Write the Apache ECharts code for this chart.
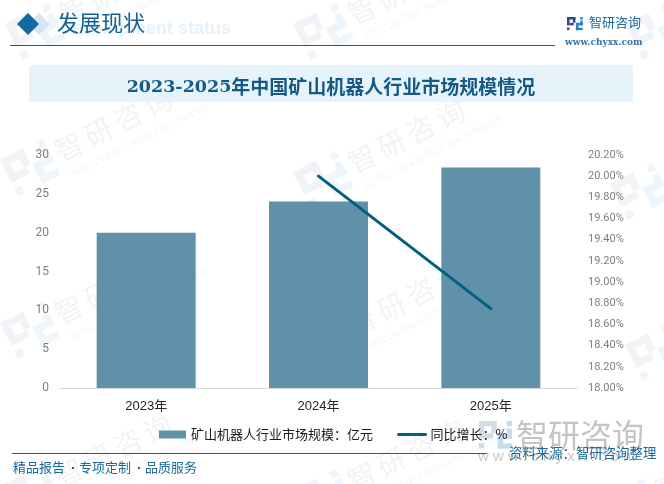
<!DOCTYPE html>
<html>
<head>
<meta charset="utf-8">
<style>html,body{margin:0;padding:0;background:#fff}#main{width:664px;height:484px}</style>
<script src="https://cdn.jsdelivr.net/npm/echarts@6/dist/echarts.min.js"></script>
</head>
<body>
<div id="main"></div>
<script>
var categories = ['2023年', '2024年', '2025年'];
var marketSize = [20, 24, 28.4];
var growthRate = [null, 20.0, 18.75];
var barName = '矿山机器人行业市场规模：亿元';
var lineName = '同比增长：%';

var cjk = '"Noto Sans CJK SC", sans-serif';
var navy = '#14608f';

// 水印的位置
var marks = [[5, 24], [293, 24], [625, 24], [0, 160], [293, 172], [610, 184], [0, 323], [293, 335], [625, 345], [0, 486], [293, 490], [600, 500]];

function logo(x, y, s, color, color2, rot) {
  var r = function (a, b, w, h, c) {
    return { type: 'rect', shape: { x: a * s, y: b * s, width: w * s, height: h * s }, style: { fill: c }, silent: true };
  };
  return {
    type: 'group', x: x, y: y, rotation: rot, silent: true,
    children: [
      r(0, 0, 8, 2.4, color), r(0, 0, 2.4, 8, color), r(5.6, 0, 2.4, 5.5, color), r(2.4, 5.6, 4, 2.4, color), r(0, 10, 2.4, 2.5, color),
      r(12.6, 0, 2.4, 2.4, color2), r(12.6, 3.4, 2.4, 4.6, color2), r(8.5, 5.6, 6.5, 2.4, color2), r(8.5, 5.6, 2.4, 7, color2), r(8.5, 10.2, 6.5, 2.3, color2)
    ]
  };
}

var graphic = [];
marks.forEach(function (m) {
  var rot = 0.46;
  graphic.push(logo(m[0], m[1], 3.2, '#f1f3f7', '#eef6fb', rot));
  var chars = '智研咨询'.split('').map(function (c, i) {
    return { type: 'text', style: { x: i * 33, y: 0, text: c, fill: '#f2f3f5', font: '28px ' + cjk } };
  });
  chars.push({ type: 'text', style: { x: 4, y: 36, text: 'INTELLIGENCE RESEARCH GROUP', fill: '#f4f5f7', font: '9px "Liberation Sans"' } });
  graphic.push({ type: 'group', x: m[0] + 50, y: m[1] - 20, rotation: rot, silent: true, children: chars });
});

// 页眉
graphic.push(
  { type: 'text', style: { x: 60, y: 20, text: 'Development status', fill: '#e6f2fa', font: 'bold 18px "Liberation Sans"' } },
  { type: 'polygon', shape: { points: [[39, 13], [50, 24], [39, 35], [28, 24]] }, style: { fill: '#d5e6f1' } },
  { type: 'polygon', shape: { points: [[28, 13], [39, 24], [28, 35], [17, 24]] }, style: { fill: '#1569a3' } },
  { type: 'text', style: { x: 57, y: 12, text: '发展现状', fill: navy, font: '22px ' + cjk } },
  { type: 'rect', shape: { x: 10, y: 45, width: 545, height: 1 }, style: { fill: '#1a5f8c' } },
  logo(567, 17, 1.05, '#2c4a8c', '#1f86c8', 0),
  { type: 'text', style: { x: 589, y: 16, text: '智研咨询', fill: '#1d6a9c', font: '13px ' + cjk } },
  { type: 'text', style: { x: 565, y: 38, text: 'www.chyxx.com', fill: '#3a74a0', font: 'bold 9px "DejaVu Serif"' } },
  { type: 'rect', shape: { x: 29, y: 65, width: 604, height: 37 }, style: { fill: '#e6f3fb' } },
  {
    type: 'text',
    style: {
      x: 331, y: 87, align: 'center', verticalAlign: 'middle',
      text: '{a|2023-2025}{b|年中国矿山机器人行业市场规模情况}',
      rich: {
        a: { fill: '#155a85', font: 'bold 17.5px "DejaVu Serif"' },
        b: { fill: '#155a85', font: 'bold 19px ' + cjk }
      }
    }
  }
);

// 页脚
graphic.push(
  logo(479, 421, 2.2, '#d3dbe4', '#c5dcef', 0),
  { type: 'text', style: { x: 516, y: 419, text: '智研咨询', fill: '#c4c4c4', font: '32px ' + cjk } },
  { type: 'text', style: { x: 478, y: 449, text: 'w w w . c h y x x . c o m', fill: '#c8c8c8', font: '15px "Liberation Sans"' } },
  { type: 'rect', shape: { x: 12, y: 453, width: 475, height: 1 }, style: { fill: '#1a5f8c' } }
);
['精品报告', '专项定制', '品质服务'].forEach(function (t, i) {
  graphic.push({ type: 'text', style: { x: 13 + i * 66, y: 461, text: t, fill: '#1a6a9c', font: '13px ' + cjk } });
  if (i < 2) graphic.push({ type: 'rect', shape: { x: 72 + i * 66, y: 467, width: 2, height: 2 }, style: { fill: '#1a6a9c' } });
});
graphic.push({ type: 'text', style: { x: 509, y: 446, text: '资料来源：智研咨询整理', fill: '#1a6a9c', font: '13.4px ' + cjk } });

var chart = echarts.init(document.getElementById('main'));
chart.setOption({
  animation: false,
  backgroundColor: '#fff',
  graphic: graphic,
  grid: { left: 60, right: 87, top: 155, bottom: 96 },
  legend: {
    top: 423, left: 154, itemWidth: 27, itemHeight: 8, itemGap: 24, itemStyle: { borderWidth: 0 },
    textStyle: { fontFamily: cjk, fontSize: 13, color: '#1a1a1a' },
    data: [{ name: barName, icon: 'rect' }, { name: lineName, itemStyle: { opacity: 0 }, lineStyle: { width: 3 } }]
  },
  xAxis: {
    type: 'category', data: categories,
    axisTick: { show: false },
    axisLine: { lineStyle: { color: '#d9d9d9', width: 1 } },
    axisLabel: { color: '#262626', fontSize: 13, fontFamily: '"Liberation Sans", ' + cjk, margin: 12 }
  },
  yAxis: [
    {
      type: 'value', min: 0, max: 30, interval: 5,
      splitLine: { show: false }, axisLine: { show: false }, axisTick: { show: false },
      axisLabel: { color: '#7f7f7f', fontSize: 12, fontFamily: 'Roboto', margin: 11 }
    },
    {
      type: 'value', min: 18, max: 20.2, interval: 0.2,
      splitLine: { show: false }, axisLine: { show: false }, axisTick: { show: false },
      axisLabel: { color: '#7f7f7f', fontSize: 11, fontFamily: 'Roboto', margin: 11, formatter: function (v) { return v.toFixed(2) + '%'; } }
    }
  ],
  series: [
    { name: barName, type: 'bar', data: marketSize, barWidth: 99, itemStyle: { color: '#5f91a9' } },
    {
      name: lineName, type: 'line', yAxisIndex: 1, data: growthRate, showSymbol: false, symbol: 'none',
      lineStyle: { color: '#00607f', width: 3, cap: 'round' }, itemStyle: { color: '#00607f' }
    }
  ]
});
</script>
</body>
</html>
